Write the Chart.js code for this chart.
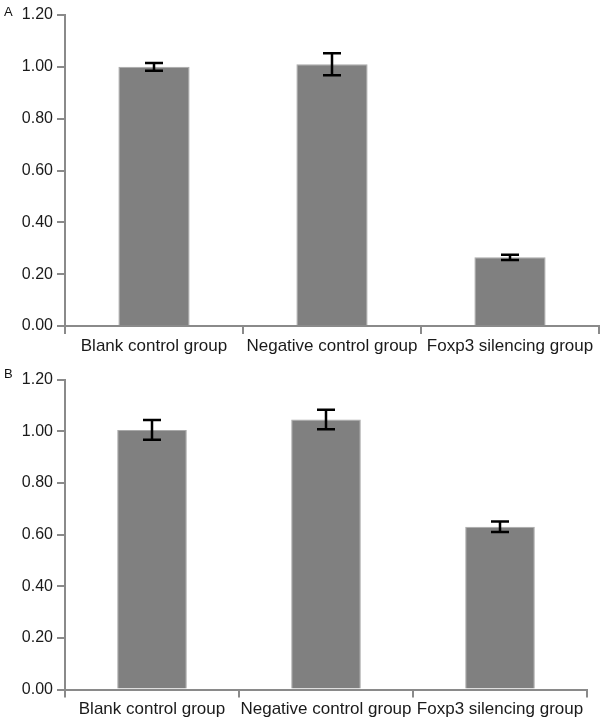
<!DOCTYPE html>
<html>
<head>
<meta charset="utf-8">
<script src="https://cdn.jsdelivr.net/npm/chart.js@4/dist/chart.umd.min.js"></script>
<style>
  html, body { margin: 0; padding: 0; background: #fff; }
  body { width: 600px; height: 728px; position: relative; overflow: hidden; font-family: "Liberation Sans", Arial, sans-serif; }
  .wrap { position: absolute; left: 0; width: 600px; }
  .panel-label { position: absolute; font-size: 13px; color: #111; line-height: 1; }
</style>
</head>
<body>
<div class="wrap" style="top:0;height:365px;"><canvas id="chartA" width="600" height="365"></canvas></div>
<div class="wrap" style="top:365px;height:363px;"><canvas id="chartB" width="600" height="363"></canvas></div>
<div class="panel-label" style="left:4px;top:5px;">A</div>
<div class="panel-label" style="left:4px;top:367px;">B</div>
<script>
const categories = ["Blank control group", "Negative control group", "Foxp3 silencing group"];
const valuesA = [1.00, 1.01, 0.265];
const errorsA = [0.015, 0.042, 0.010];
const valuesB = [1.005, 1.045, 0.63];
const errorsB = [0.038, 0.038, 0.020];
const yMin = 0, yMax = 1.2, yStep = 0.2;

const axisColor = '#8a8a8a';

const errorBarPlugin = {
  id: 'errorBars',
  afterDatasetsDraw(chart) {
    const errs = chart.options.plugins.errorBars.errors;
    const vals = chart.data.datasets[0].data;
    const meta = chart.getDatasetMeta(0);
    const ys = chart.scales.y;
    const ctx = chart.ctx;
    ctx.save();
    ctx.strokeStyle = '#000';
    ctx.lineWidth = 2.5;
    meta.data.forEach((bar, i) => {
      const x = bar.x;
      const top = ys.getPixelForValue(vals[i] + errs[i]);
      const bot = ys.getPixelForValue(vals[i] - errs[i]);
      const hw = 9;
      ctx.beginPath();
      ctx.moveTo(x, top); ctx.lineTo(x, bot);
      ctx.moveTo(x - hw, top); ctx.lineTo(x + hw, top);
      ctx.moveTo(x - hw, bot); ctx.lineTo(x + hw, bot);
      ctx.stroke();
    });
    ctx.restore();
  }
};

function makeChart(id, values, errors, pad) {
  return new Chart(document.getElementById(id), {
    type: 'bar',
    data: {
      labels: categories,
      datasets: [{
        data: values,
        backgroundColor: '#808080',
        borderColor: '#a9a9a9',
        borderWidth: 1,
        categoryPercentage: 1.0,
        barPercentage: 0.40
      }]
    },
    options: {
      responsive: false,
      animation: false,
      devicePixelRatio: 1,
      layout: { padding: { top: pad.top, right: pad.right, left: 0, bottom: 0 } },
      plugins: {
        legend: { display: false },
        tooltip: { enabled: false },
        errorBars: { errors: errors }
      },
      scales: {
        x: {
          offset: true,
          grid: { display: true, drawOnChartArea: false, drawTicks: true, tickLength: 8, color: axisColor, lineWidth: 2, offset: true },
          border: { display: true, color: axisColor, width: 2 },
          ticks: { color: '#1a1a1a', font: { family: 'Liberation Sans', size: 17 }, padding: 2, maxRotation: 0, autoSkip: false },
          afterFit(scale) { scale.height = pad.xh; }
        },
        y: {
          min: yMin, max: yMax,
          grid: { display: true, drawOnChartArea: false, drawTicks: true, tickLength: 8, color: axisColor, lineWidth: 2 },
          border: { display: true, color: axisColor, width: 2 },
          ticks: {
            stepSize: yStep,
            color: '#1a1a1a',
            font: { family: 'Liberation Sans', size: 16 },
            padding: 4,
            callback: v => Number(v).toFixed(2)
          },
          afterFit(scale) { scale.width = 65; }
        }
      }
    },
    plugins: [errorBarPlugin]
  });
}

makeChart('chartA', valuesA, errorsA, { top: 15, right: 1, xh: 39 });
makeChart('chartB', valuesB, errorsB, { top: 14.5, right: 13, xh: 38.5 });
</script>
</body>
</html>
